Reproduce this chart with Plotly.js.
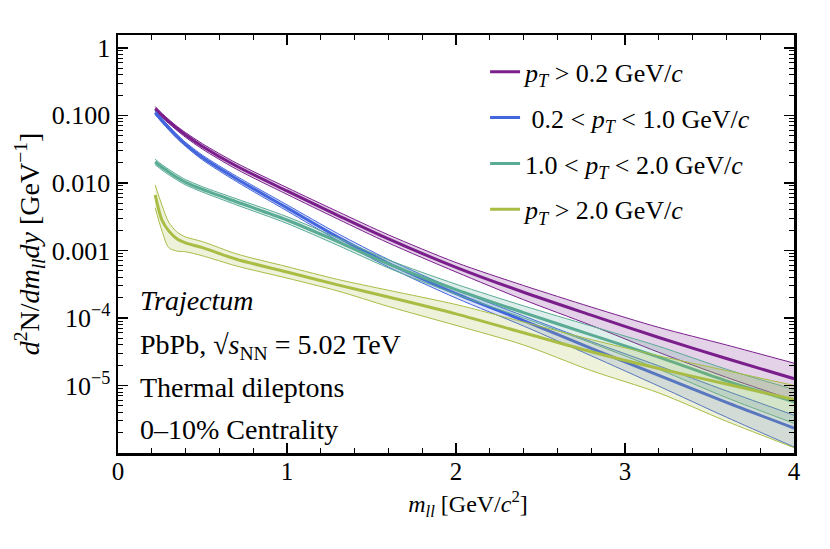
<!DOCTYPE html>
<html>
<head>
<meta charset="utf-8">
<script src="https://cdn.plot.ly/plotly-3.0.1.min.js"></script>
<style>
  html, body { margin: 0; padding: 0; background: white; }
  #chart { width: 830px; height: 549px; }
</style>
</head>
<body>
<div id="chart"></div>
<script>
// Thermal dilepton invariant-mass spectra (Trajectum).
const MASS = [0.22, 0.26, 0.3, 0.35, 0.4, 0.5, 0.7, 1.0, 1.3, 1.6, 2.0, 2.4, 2.8, 3.2, 3.6, 4.0];

// pT > 0.2 GeV/c
const PT02_MID = [0.126, 0.100, 0.0813, 0.0638, 0.0513, 0.0347, 0.0178, 0.00759, 0.00331, 0.00148, 5.62e-4, 2.40e-4, 1.10e-4, 5.13e-5, 2.51e-5, 1.26e-5];
const PT02_HI  = [0.135, 0.107, 0.0871, 0.0684, 0.0556, 0.0380, 0.0197, 0.00851, 0.00376, 0.00170, 6.61e-4, 3.02e-4, 1.45e-4, 7.24e-5, 3.98e-5, 2.14e-5];
const PT02_LO  = [0.117, 0.0933, 0.0759, 0.0596, 0.0473, 0.0316, 0.0160, 0.00676, 0.00292, 0.00129, 4.79e-4, 1.86e-4, 7.76e-5, 3.09e-5, 1.32e-5, 6.03e-6];

// 0.2 < pT < 1.0 GeV/c
const PT0210_MID = [0.110, 0.0841, 0.0653, 0.0484, 0.0372, 0.0237, 0.0115, 0.00427, 0.00158, 6.46e-4, 2.29e-4, 9.12e-5, 3.55e-5, 1.41e-5, 5.62e-6, 2.34e-6];
const PT0210_HI  = [0.117, 0.0902, 0.0700, 0.0519, 0.0398, 0.0257, 0.0126, 0.00473, 0.00178, 7.33e-4, 2.63e-4, 1.07e-4, 4.47e-5, 1.95e-5, 8.32e-6, 3.63e-6];
const PT0210_LO  = [0.102, 0.0785, 0.0610, 0.0452, 0.0347, 0.0219, 0.0105, 0.00385, 0.00141, 5.69e-4, 1.97e-4, 7.59e-5, 2.75e-5, 9.77e-6, 3.39e-6, 1.23e-6];

// 1.0 < pT < 2.0 GeV/c
const PT1020_MID = [0.0204, 0.0170, 0.0145, 0.0120, 0.0102, 0.00800, 0.00525, 0.00282, 0.00135, 6.31e-4, 2.63e-4, 1.20e-4, 5.62e-5, 2.63e-5, 1.17e-5, 5.75e-6];
const PT1020_HI  = [0.0224, 0.0186, 0.0159, 0.0132, 0.0112, 0.00877, 0.00582, 0.00316, 0.00153, 7.24e-4, 3.16e-4, 1.51e-4, 7.59e-5, 3.80e-5, 1.74e-5, 8.71e-6];
const PT1020_LO  = [0.0186, 0.0155, 0.0132, 0.0110, 0.00933, 0.00730, 0.00473, 0.00251, 0.00119, 5.50e-4, 2.24e-4, 1.00e-4, 4.27e-5, 1.74e-5, 6.61e-6, 2.75e-6];

// pT > 2.0 GeV/c
const PT20_MID = [6.61e-3, 2.82e-3, 1.95e-3, 1.48e-3, 1.29e-3, 1.10e-3, 7.41e-4, 4.79e-4, 3.09e-4, 2.04e-4, 1.15e-4, 6.03e-5, 3.16e-5, 1.78e-5, 1.05e-5, 6.17e-6];
const PT20_HI  = [9.33e-3, 4.68e-3, 2.63e-3, 1.86e-3, 1.58e-3, 1.35e-3, 8.91e-4, 5.75e-4, 3.72e-4, 2.57e-4, 1.58e-4, 8.71e-5, 4.79e-5, 2.75e-5, 1.66e-5, 1.00e-5];
const PT20_LO  = [4.27e-3, 1.95e-3, 1.10e-3, 9.77e-4, 9.55e-4, 8.32e-4, 5.89e-4, 3.89e-4, 2.51e-4, 1.48e-4, 7.76e-5, 3.98e-5, 1.66e-5, 7.76e-6, 2.95e-6, 1.20e-6];

const PT = '<i>p</i><sub><i>T</i></sub>';
const LABELS = [
  `${PT} &gt; 0.2 GeV/<i>c</i>`,
  ` 0.2 &lt; ${PT} &lt; 1.0 GeV/<i>c</i>`,
  `1.0 &lt; ${PT} &lt; 2.0 GeV/<i>c</i>`,
  `${PT} &gt; 2.0 GeV/<i>c</i>`,
];

const Y_TICKS = [1, 0.1, 0.01, 0.001, 1e-4, 1e-5];
const Y_TICK_TEXT = ['1', '0.100', '0.010', '0.001', '10<sup>−4</sup>', '10<sup>−5</sup>'];

const SERIES = [
  { mid: PT02_MID,   hi: PT02_HI,   lo: PT02_LO,   color: '#7a1e8c', fill: 'rgba(122,30,140,0.20)' },
  { mid: PT0210_MID, hi: PT0210_HI, lo: PT0210_LO, color: '#4466dd', fill: 'rgba(68,102,221,0.18)' },
  { mid: PT1020_MID, hi: PT1020_HI, lo: PT1020_LO, color: '#5aab94', fill: 'rgba(90,171,148,0.20)' },
  { mid: PT20_MID,   hi: PT20_HI,   lo: PT20_LO,   color: '#a9bd45', fill: 'rgba(169,189,69,0.20)' },
];

const FONT = 'Liberation Serif, Times New Roman, serif';

function bandTraces(s, idx) {
  const group = 'g' + idx;
  const common = { x: MASS, mode: 'lines', legendgroup: group, hoverinfo: 'skip' };
  const shape = { shape: 'spline', smoothing: 0.8 };
  return [
    { ...common, y: s.lo, showlegend: false,
      line: { color: s.color, width: 1, ...shape } },
    { ...common, y: s.hi, showlegend: false, fill: 'tonexty', fillcolor: s.fill,
      line: { color: s.color, width: 1, ...shape } },
    { ...common, y: s.mid, name: LABELS[idx],
      line: { color: s.color, width: 3, ...shape } },
  ];
}

// minor log ticks at 2..9 of each decade
const minorY = [];
for (let e = -6; e <= 0; e++) {
  for (let m = 2; m <= 9; m++) minorY.push(m * Math.pow(10, e));
}

const traces = SERIES.flatMap(bandTraces);

const textLines = [
  { text: '<i>Trajectum</i>', y: 0.364 },
  { text: 'PbPb, √<i>s</i><sub>NN</sub> = 5.02 TeV', y: 0.254 },
  { text: 'Thermal dileptons', y: 0.157 },
  { text: '0–10% Centrality', y: 0.056 },
];

const layout = {
  width: 830,
  height: 549,
  margin: { l: 118, r: 36, t: 35, b: 96 },
  paper_bgcolor: 'white',
  plot_bgcolor: 'white',
  font: { family: FONT, color: 'black', size: 25 },
  showlegend: true,
  legend: {
    x: 0.543, y: 0.968, xanchor: 'left', yanchor: 'top',
    bgcolor: 'rgba(0,0,0,0)',
    font: { family: FONT, size: 26 },
    tracegroupgap: 9,
    itemwidth: 30,
  },
  xaxis: {
    range: [0, 4],
    tickvals: [0, 1, 2, 3, 4],
    ticks: 'inside', ticklen: 10, tickwidth: 1.5, tickcolor: 'black',
    minor: { ticks: 'inside', ticklen: 5, tickwidth: 1, dtick: 0.2, tick0: 0, showgrid: false },
    showline: true, linewidth: 2.5, linecolor: 'black', mirror: 'allticks',
    showgrid: false, zeroline: false,
    tickfont: { size: 25 },
    ticklabelstandoff: -6,
    title: {
      text: '&nbsp;&nbsp;&nbsp;&nbsp;<i>m</i><sub><i>ll</i></sub> [GeV/<i>c</i><sup>2</sup>]',
      font: { size: 24 }, standoff: 12,
    },
  },
  yaxis: {
    type: 'log',
    range: [-6, 0.19],
    tickvals: Y_TICKS,
    ticktext: Y_TICK_TEXT,
    ticks: 'inside', ticklen: 10, tickwidth: 1.5, tickcolor: 'black',
    minor: { ticks: 'inside', ticklen: 5, tickwidth: 1, tickvals: minorY, showgrid: false },
    showline: true, linewidth: 2.5, linecolor: 'black', mirror: 'allticks',
    showgrid: false, zeroline: false,
    tickfont: { size: 26 },
    title: { text: '<i>d</i><sup>2</sup>N/<i>dm</i><sub><i>ll</i></sub><i>dy</i> [GeV<sup>−1</sup>]', font: { size: 28 }, standoff: 4 },
  },
  annotations: textLines.map((t) => ({
    text: t.text, xref: 'paper', yref: 'paper', x: 0.03, y: t.y,
    xanchor: 'left', yanchor: 'middle', showarrow: false,
    font: { family: FONT, size: 28, color: 'black' },
  })),
};

Plotly.newPlot('chart', traces, layout, { displayModeBar: false, staticPlot: true });
</script>
</body>
</html>
